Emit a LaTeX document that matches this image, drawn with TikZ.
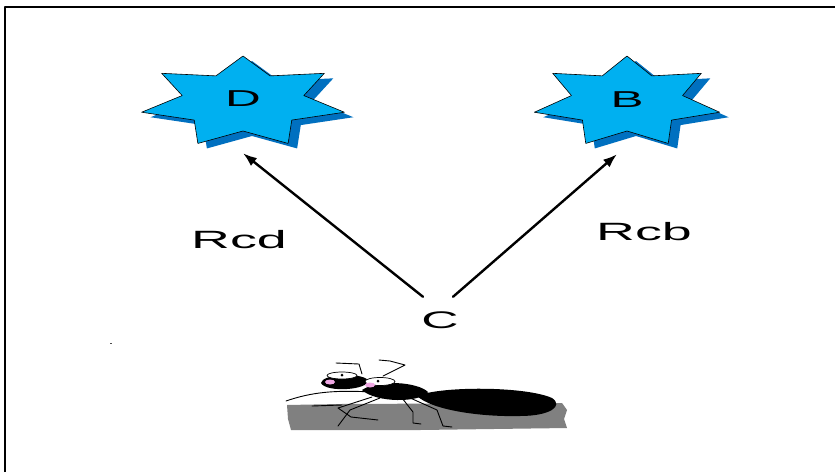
\documentclass[tikz,border=0pt]{standalone}
\usepackage{fontspec}
\setmainfont{Liberation Sans}
\usetikzlibrary{arrows.meta,calc}
\definecolor{starblue}{HTML}{00B0F0}
\definecolor{shadeblue}{HTML}{0070C0}
\definecolor{rockgray}{HTML}{808080}
\definecolor{cheekpink}{HTML}{F0A8E4}
% letters on the slide are stretched sideways
\newcommand{\wide}[1]{\scalebox{2.15}[1]{#1}}
% seven-pointed star with its drop shadow: centre x, centre y, outer x radius
\newcommand{\sevenstar}[3]{%
  \pgfmathsetmacro{\rin}{0.6*#3}%
  \fill[shadeblue,shift={(#1+9,#2+5)},yscale=-1] (90:#3 and 46)
    \foreach \k [evaluate=\k as \a using 90+(2*\k-1)*180/7,
                 evaluate=\k as \b using 90+\k*360/7] in {1,...,7}
    { -- (\a:{\rin} and 29) -- (\b:#3 and 46) } -- cycle;
  \filldraw[fill=starblue,draw=black,line width=0.6pt,shift={(#1,#2)},yscale=-1] (90:#3 and 46)
    \foreach \k [evaluate=\k as \a using 90+(2*\k-1)*180/7,
                 evaluate=\k as \b using 90+\k*360/7] in {1,...,7}
    { -- (\a:{\rin} and 29) -- (\b:#3 and 46) } -- cycle;
}
\tikzset{
    every picture/.style={line cap=round,line join=round},
    starlbl/.style={minimum height=108pt,inner sep=0pt,
      font=\fontsize{23}{26}\selectfont},
    pathlbl/.style={inner sep=0pt,font=\fontsize{25}{28}\selectfont},
    antpos/.style={minimum height=46pt,inner sep=0pt,
      font=\fontsize{24}{27}\selectfont},
    flowarrow/.style={-{Latex[length=14pt,width=10pt]},draw=black,
      line width=2.4pt},
    leg/.style={draw=black,line width=0.9pt}
}
\begin{document}
\begin{tikzpicture}[x=1pt,y=-1pt]
  \useasboundingbox (0,0) rectangle (835,472);
  \fill[white] (0,0) rectangle (835,472);
  \draw[line width=1.6pt,line cap=butt] (5,472) -- (5,7) -- (835,7);
  \fill[black!70] (110,342.5) rectangle (112,343.5);

  \sevenstar{243}{102}{104}
  \sevenstar{627}{102}{95}
  \node[starlbl] (D) at (243,99) {\wide{D}};
  \node[starlbl] (B) at (627,100) {\wide{B}};
  \node[antpos] (C) at (440,320) {\wide{C}};
  \node[pathlbl] (rcd) at (239,240) {\wide{Rcd}};
  \node[pathlbl] (rcb) at (644,232) {\wide{Rcb}};

  \draw[flowarrow] ([xshift=-17pt]C.north) -- (D.south);
  \draw[flowarrow] ([xshift=13pt]C.north) -- ([xshift=-10pt]B.south);

  % the ant on its rock
  \fill[rockgray] (287,405) -- (340,404) -- (562,403) -- (567,410) -- (564,419)
    -- (567,428) -- (420,430) -- (291,430) -- (288,419) -- cycle;
  \fill (417,396) .. controls (440,386) and (525,386) .. (552,398)
    .. controls (564,406) and (550,416) .. (520,416)
    .. controls (480,417) and (432,410) .. (417,396) -- cycle;
  \fill (362,390) .. controls (378,379) and (418,382) .. (428,392)
    .. controls (420,403) and (376,403) .. (362,390) -- cycle;
  \fill (321,383) .. controls (322,374) and (360,372) .. (368,380)
    .. controls (370,390) and (326,393) .. (321,383) -- cycle;
  \draw[leg] (336,363) -- (359,364) -- (362,374);
  \draw[leg] (379,360) -- (390,361) -- (405,365) -- (383,376);
  \filldraw[fill=white,line width=0.7pt] (342,375.5) ellipse [x radius=15,y radius=3.5];
  \filldraw[fill=white,line width=0.7pt] (380,381.5) ellipse [x radius=15,y radius=4];
  \fill (342,375) circle [radius=1.5];
  \fill (378,381) circle [radius=1.5];
  \fill[cheekpink] (330,382) ellipse [x radius=5,y radius=2.5];
  \fill[cheekpink] (370,385) ellipse [x radius=5,y radius=2.5];
  \draw[leg] (372,392) .. controls (335,390) and (312,392) .. (286,401);
  \draw[leg] (312,406) -- (342,405);
  \draw[leg] (372,397) -- (338,408) -- (351,417) -- (378,420);
  \draw[leg] (380,398) -- (350,410) -- (338,426);
  \draw[leg] (402,398) -- (413,412) -- (413,423) -- (421,424);
  \draw[leg] (408,397) -- (437,410) -- (443,426) -- (452,427);
\end{tikzpicture}
\end{document}
